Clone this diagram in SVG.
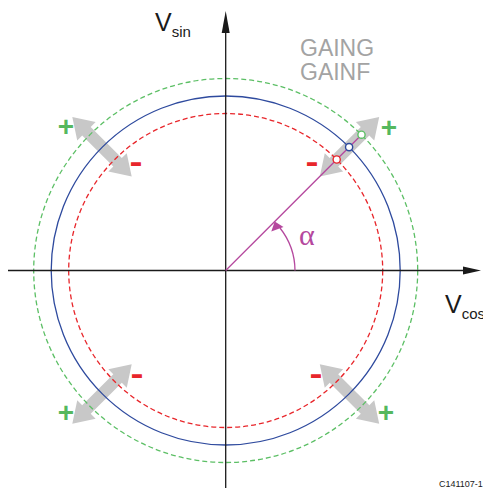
<svg xmlns="http://www.w3.org/2000/svg" xmlns:xlink="http://www.w3.org/1999/xlink" width="483" height="488" viewBox="0 0 483 488">
<style>
.ax{stroke:#1a1a1a;stroke-width:1.3;fill:none}
.circ{fill:none;stroke-width:1.3}
.dash{stroke-dasharray:5 3}
.ga{fill:#c8c8c8}
.plus{font-family:"Liberation Sans",Arial,sans-serif;font-weight:bold;font-size:28px;fill:#55b85e;text-anchor:middle}
.minus{font-family:"Liberation Sans",Arial,sans-serif;font-weight:bold;font-size:32px;fill:#e8262b;text-anchor:middle}
.lbl{font-family:"Liberation Sans",Arial,sans-serif;fill:#1a1a1a}
.gain{font-family:"Liberation Sans",Arial,sans-serif;font-size:23px;fill:#a3a3a3}
.mg{stroke:#b5489e;fill:none;stroke-width:1.3}
.dot{fill:#fff;stroke-width:1.4}
</style>
<defs>
<polygon id="garrow" points="-42,0 -22,-13 -22,-6 22,-6 22,-13 42,0 22,13 22,6 -22,6 -22,13"/>
</defs>
<g id="gray-arrows" class="ga">
<use xlink:href="#garrow" transform="translate(349.5,146.8) rotate(-45)"/>
<use xlink:href="#garrow" transform="translate(102,146.8) rotate(45)"/>
<use xlink:href="#garrow" transform="translate(102,394) rotate(-45)"/>
<use xlink:href="#garrow" transform="translate(349.5,394) rotate(45)"/>
</g>
<g id="circles">
<circle cx="225.7" cy="270.5" r="192" class="circ dash" stroke="#5cbf65"/>
<circle cx="225.7" cy="270.5" r="174.5" class="circ" stroke="#2e4a9e"/>
<circle cx="225.7" cy="270.5" r="157" class="circ dash" stroke="#e8262b"/>
</g>
<g id="axes">
<line x1="8" y1="270.5" x2="466" y2="270.5" class="ax"/>
<polygon points="481,270.5 463,266.5 463,274.5" fill="#1a1a1a"/>
<line x1="225.7" y1="28" x2="225.7" y2="488" class="ax"/>
<polygon points="225.7,11 221.7,33 229.7,33" fill="#1a1a1a"/>
</g>
<g id="vector">
<line x1="225.7" y1="270.5" x2="361.5" y2="134.7" class="mg"/>
<path d="M295,270.5 A69.3,69.3 0 0 0 280,228" class="mg"/>
<polygon points="274.7,221.5 271.3,231.6 283.5,227.0" fill="#b5489e"/>
<circle cx="336.7" cy="159.5" r="3.6" class="dot" stroke="#e8262b"/>
<circle cx="349.1" cy="147.1" r="3.6" class="dot" stroke="#2e4a9e"/>
<circle cx="361.5" cy="134.7" r="3.6" class="dot" stroke="#5cbf65"/>
<text x="299" y="245" font-family="Liberation Serif,serif" font-size="30" fill="#b5489e">α</text>
</g>
<g id="signs">
<text x="389" y="137" class="plus">+</text>
<text x="66" y="136" class="plus">+</text>
<text x="66" y="422" class="plus">+</text>
<text x="386" y="422" class="plus">+</text>
<text x="312" y="172" class="minus" textLength="13" lengthAdjust="spacingAndGlyphs">-</text>
<text x="136" y="172" class="minus" textLength="13" lengthAdjust="spacingAndGlyphs">-</text>
<text x="137" y="384" class="minus" textLength="13" lengthAdjust="spacingAndGlyphs">-</text>
<text x="316" y="384" class="minus" textLength="13" lengthAdjust="spacingAndGlyphs">-</text>
</g>
<g id="labels">
<text x="155" y="31" class="lbl" font-size="25">V<tspan font-size="15" dy="6">sin</tspan></text>
<text x="445" y="313" class="lbl" font-size="25">V<tspan font-size="15" dy="6">cos</tspan></text>
<text x="300" y="56" class="gain">GAING</text>
<text x="300" y="80" class="gain">GAINF</text>
<text x="439" y="487" class="lbl" font-size="9">C141107-1</text>
</g>
</svg>
